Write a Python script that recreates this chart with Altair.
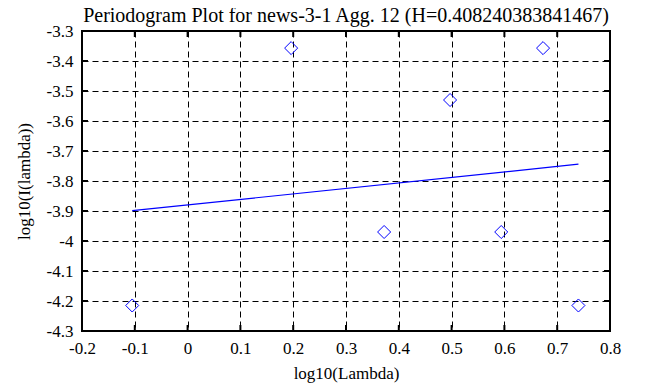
import altair as alt
import pandas as pd

# data
log_lambda = [-0.1049, 0.1961, 0.3722, 0.4971, 0.5940, 0.6732, 0.7402]
log_I = [-4.215, -3.357, -3.970, -3.530, -3.970, -3.357, -4.215]
x_ticks = [-0.2, -0.1, 0.0, 0.1, 0.2, 0.3, 0.4, 0.5, 0.6, 0.7, 0.8]
y_ticks = [-4.3, -4.2, -4.1, -4.0, -3.9, -3.8, -3.7, -3.6, -3.5, -3.4, -3.3]
title_text = "Periodogram Plot for news-3-1 Agg. 12 (H=0.408240383841467)"

W, H = 528, 300
FONT = "Liberation Serif"

pts = pd.DataFrame({"x": log_lambda, "y": log_I})
xt = pd.DataFrame({"x": x_ticks})
yt = pd.DataFrame({"y": y_ticks})

xscale = alt.Scale(domain=[-0.2, 0.8], nice=False, zero=False)
yscale = alt.Scale(domain=[-4.3, -3.3], nice=False, zero=False)

common = dict(labelFont=FONT, titleFont=FONT, labelFontSize=17, titleFontSize=17,
              titleFontWeight="normal", labelColor="black", titleColor="black")
xaxis = alt.Axis(values=x_ticks, labelExpr="datum.value + ''", labelPadding=9,
                 titlePadding=9, tickCount=11, **common)
yaxis = alt.Axis(values=y_ticks, labelExpr="datum.value + ''", labelPadding=9,
                 titlePadding=13, tickCount=11, **common)

XT = "log10(Lambda)"
YT = "log10(I(lambda))"

points = alt.Chart(pts).mark_point(shape="diamond", size=170, filled=False,
                                   color="#0000ff", strokeWidth=1, opacity=1).encode(
    x=alt.X("x:Q", scale=xscale, axis=xaxis, title=XT),
    y=alt.Y("y:Q", scale=yscale, axis=yaxis, title=YT),
)

fit = alt.Chart(pts).transform_regression("x", "y").mark_line(
    color="#0000ff", strokeWidth=1.2).encode(
    x=alt.X("x:Q", scale=xscale, axis=xaxis, title=XT),
    y=alt.Y("y:Q", scale=yscale, axis=yaxis, title=YT),
)

tick_len = 6
bottom_ticks = alt.Chart(xt).mark_rule(color="black", strokeWidth=2).encode(
    x=alt.X("x:Q", scale=xscale, axis=xaxis, title=XT), y=alt.value(H), y2=alt.value(H - tick_len))
top_ticks = alt.Chart(xt).mark_rule(color="black", strokeWidth=2).encode(
    x=alt.X("x:Q", scale=xscale, axis=xaxis, title=XT), y=alt.value(0), y2=alt.value(tick_len))
left_ticks = alt.Chart(yt).mark_rule(color="black", strokeWidth=2).encode(
    y=alt.Y("y:Q", scale=yscale, axis=yaxis, title=YT), x=alt.value(0), x2=alt.value(tick_len))
right_ticks = alt.Chart(yt).mark_rule(color="black", strokeWidth=2).encode(
    y=alt.Y("y:Q", scale=yscale, axis=yaxis, title=YT), x=alt.value(W), x2=alt.value(W - tick_len))

chart = alt.layer(points, bottom_ticks, top_ticks, left_ticks, right_ticks, fit).properties(
    width=W, height=H,
    title=alt.TitleParams(title_text, font=FONT, fontSize=20, fontWeight="normal",
                          color="black", anchor="middle", offset=5, dy=9, frame="group"),
    autosize=alt.AutoSizeParams(type="none"),
    padding={"left": 74, "top": 23, "right": 20, "bottom": 55},
    background="white",
).configure(font=FONT).configure_view(stroke="black", strokeWidth=2).configure_axis(
    grid=True, gridDash=[6, 4], gridColor="black", gridOpacity=1, gridWidth=1,
    domain=False, ticks=False,
    labelFont=FONT, titleFont=FONT, labelFontSize=17, titleFontSize=17,
    titleFontWeight="normal", labelColor="black", titleColor="black",
    labelFlush=False, labelOverlap=False,
)

chart.save("out.html", embed_options={"renderer": "svg", "actions": False})
